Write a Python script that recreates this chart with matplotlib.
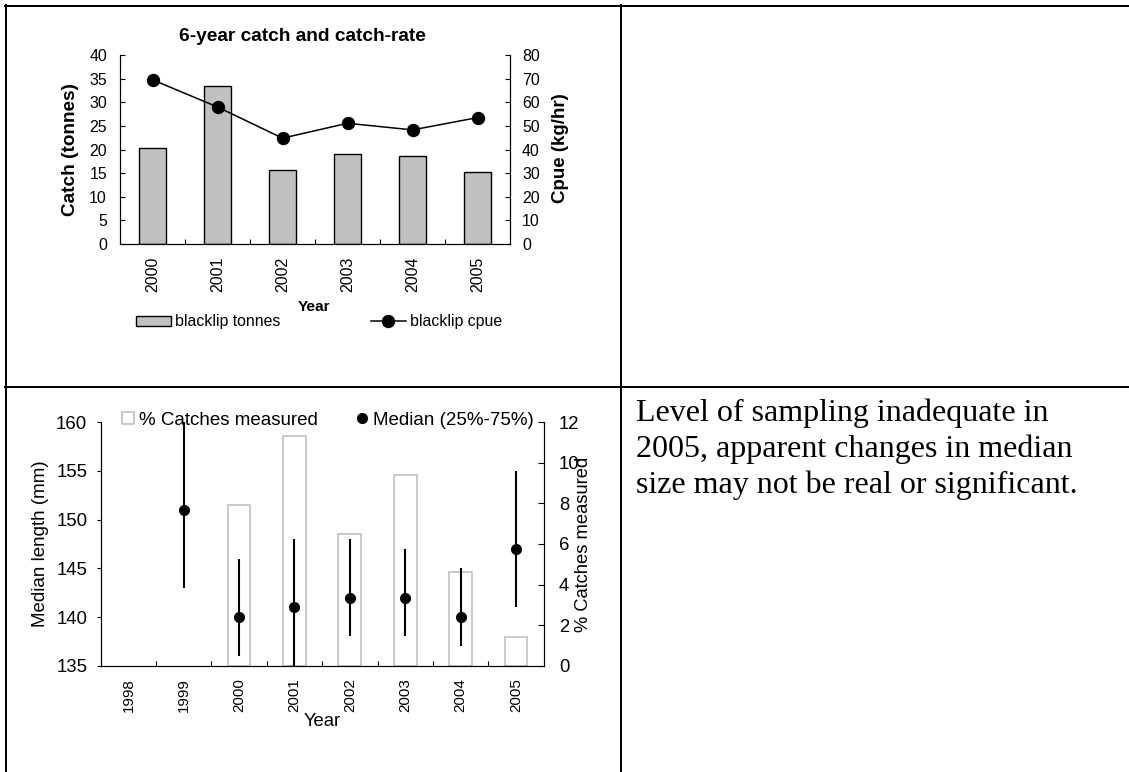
import matplotlib
matplotlib.use("Agg")
import matplotlib.pyplot as plt
import numpy as np
from matplotlib.lines import Line2D

plt.rcParams["font.family"] = ["Liberation Sans", "DejaVu Sans"]

# Six-year catch and catch rate
catch_years = ["2000", "2001", "2002", "2003", "2004", "2005"]
catch_tonnes = [20.3, 33.5, 15.6, 19.0, 18.7, 15.2]
cpue_kg_hr = [69.5, 58.0, 44.8, 51.1, 48.3, 53.5]

# Size sampling by year
size_years = ["1998", "1999", "2000", "2001", "2002", "2003", "2004", "2005"]
pct_measured = [0, 0, 7.9, 11.3, 6.5, 9.4, 4.6, 1.4]
median_len = [np.nan, 151, 140, 141, 142, 142, 140, 147]
q25_len = [np.nan, 143, 136, 135, 138, 138, 137, 141]
q75_len = [np.nan, 160, 146, 148, 148, 147, 145, 155]

note_lines = [
    "Level of sampling inadequate in",
    "2005, apparent changes in median",
    "size may not be real or significant.",
]

W, H = 1129, 772
fig = plt.figure(figsize=(W / 100, H / 100), dpi=100)


def px_axes(x0, y0, x1, y1):
    # axes from pixel box (top-left origin)
    return fig.add_axes([x0 / W, 1 - y1 / H, (x1 - x0) / W, (y1 - y0) / H])


# ---- top chart: catch bars + cpue line ----
ax = px_axes(120, 55, 510, 244)
x = np.arange(len(catch_years))
ax.bar(x, catch_tonnes, width=0.42, color="#c0c0c0", edgecolor="black",
       linewidth=1.0, label="blacklip tonnes")
ax.set_xlim(-0.5, len(catch_years) - 0.5)
ax.set_ylim(0, 40)
ax.set_yticks(np.arange(0, 41, 5))
ax.set_xticks(x)
ax.set_xticklabels(catch_years, rotation=90)
ax.set_xticks(np.arange(0.5, len(catch_years) - 0.5, 1), minor=True)
ax.tick_params(axis="x", which="major", length=0, pad=9.4, labelsize=11.4)
ax.tick_params(axis="x", which="minor", direction="in", length=3.4, width=0.8)
ax.tick_params(axis="y", direction="in", length=3.4, width=0.8, pad=9.4,
               labelsize=11.4)
ax.spines["top"].set_visible(False)
for s in ("left", "bottom", "right"):
    ax.spines[s].set_linewidth(0.8)

ax2 = ax.twinx()
ax2.plot(x, cpue_kg_hr, color="black", linewidth=1.1, marker="o",
         markersize=8.6, label="blacklip cpue")
ax2.set_ylim(0, 80)
ax2.set_yticks(np.arange(0, 81, 10))
ax2.tick_params(axis="y", direction="in", length=3.4, width=0.8, pad=8.6,
                labelsize=11.4)
ax2.spines["top"].set_visible(False)
ax2.spines["right"].set_linewidth(0.8)

ax.set_title("6-year catch and catch-rate", fontsize=13.8, fontweight="bold",
             x=0.469, y=1.097, va="center", pad=0)
ax.set_ylabel("Catch (tonnes)", fontsize=13.7, fontweight="bold", va="center")
ax.yaxis.set_label_coords(-0.126, 0.5)
ax2.set_ylabel("Cpue (kg/hr)", fontsize=13.5, fontweight="bold", va="center")
ax2.yaxis.set_label_coords(1.130, 0.508)
ax.set_xlabel("Year", fontsize=11.1, fontweight="bold", va="center")
ax.xaxis.set_label_coords(0.497, -0.333)

h1, l1 = ax.get_legend_handles_labels()
h2, l2 = ax2.get_legend_handles_labels()
ax.legend(h1 + h2, l1 + l2, ncol=2, frameon=False, loc="center",
          bbox_to_anchor=(319 / W, 1 - 322 / H), bbox_transform=fig.transFigure,
          fontsize=11.4, handlelength=2.2, handleheight=0.57,
          handletextpad=0.25, columnspacing=5.7, borderpad=0)

# ---- bottom chart: % measured bars + median length with quartile range ----
bx = px_axes(100.7, 422.3, 543.6, 665.7)
bx2 = bx.twinx()
xs = np.arange(len(size_years))
pct = np.array(pct_measured, dtype=float)
has_pct = pct > 0  # years with no measured catches get no bar
bx2.bar(xs[has_pct], pct[has_pct], width=0.41, color="white",
        edgecolor="#c0c0c0", linewidth=1.2, label="% Catches measured")
bx2.set_ylim(0, 12)
bx2.set_yticks(np.arange(0, 13, 2))
bx2.tick_params(axis="y", direction="in", length=4.3, width=0.8, pad=11,
                labelsize=13.3)
bx2.set_ylabel("% Catches measured", fontsize=13.2, va="center")
bx2.yaxis.set_label_coords(1.089, 0.50)

med = np.array(median_len, dtype=float)
lo = med - np.array(q25_len, dtype=float)
hi = np.array(q75_len, dtype=float) - med
bx.errorbar(xs, med, yerr=[lo, hi], fmt="o", color="black", markersize=7,
            elinewidth=1.5, capsize=0, label="Median (25%-75%)")
bx.set_zorder(bx2.get_zorder() + 1)
bx.patch.set_visible(False)
bx.set_xlim(-0.5, len(size_years) - 0.5)
bx.set_ylim(135, 160)
bx.set_yticks(np.arange(135, 161, 5))
bx.set_xticks(xs)
bx.set_xticklabels(size_years, rotation=90)
bx.set_xticks(np.arange(0.5, len(size_years) - 0.5, 1), minor=True)
bx.tick_params(axis="x", which="major", length=0, pad=8.9, labelsize=10.9)
bx.tick_params(axis="x", which="minor", direction="in", length=3.4, width=0.8)
bx.tick_params(axis="y", direction="out", length=3.1, width=0.8, pad=6.5,
               labelsize=13.4)
bx.set_ylabel("Median length (mm)", fontsize=13.5, va="center")
bx.yaxis.set_label_coords(-0.135, 0.503)
bx.set_xlabel("Year", fontsize=13.3, va="center")
bx.xaxis.set_label_coords(0.5008, -0.230)
for a in (bx, bx2):
    a.spines["top"].set_visible(False)
    for s in ("left", "bottom", "right"):
        a.spines[s].set_linewidth(0.8)

hb, lb = bx2.get_legend_handles_labels()
hm = Line2D([], [], linestyle="none", marker="o", color="black", markersize=7)
bx.legend(hb + [hm], lb + ["Median (25%-75%)"], ncol=2, frameon=False,
          loc="center", bbox_to_anchor=(327.8 / W, 1 - 420 / H),
          bbox_transform=fig.transFigure, fontsize=13.5, handlelength=0.64,
          handleheight=0.64, handletextpad=0.24, columnspacing=2.05,
          borderpad=0)

# ---- table frame and side note ----
ov = fig.add_axes([0, 0, 1, 1])
ov.set_xlim(0, W)
ov.set_ylim(H, 0)
ov.axis("off")
ov.patch.set_visible(False)
frame_lw = 1.44
ov.plot([5, W], [6, 6], color="black", linewidth=frame_lw)
ov.plot([5, W], [387, 387], color="black", linewidth=frame_lw)
ov.plot([6, 6], [5, H], color="black", linewidth=frame_lw)
ov.plot([621, 621], [5, H], color="black", linewidth=frame_lw)

for i, line in enumerate(note_lines):
    ov.text(636, 421 + 36 * i, line, fontsize=23, va="baseline", ha="left",
            family=["Liberation Serif", "DejaVu Serif"])

fig.savefig("out.png", dpi=100)
